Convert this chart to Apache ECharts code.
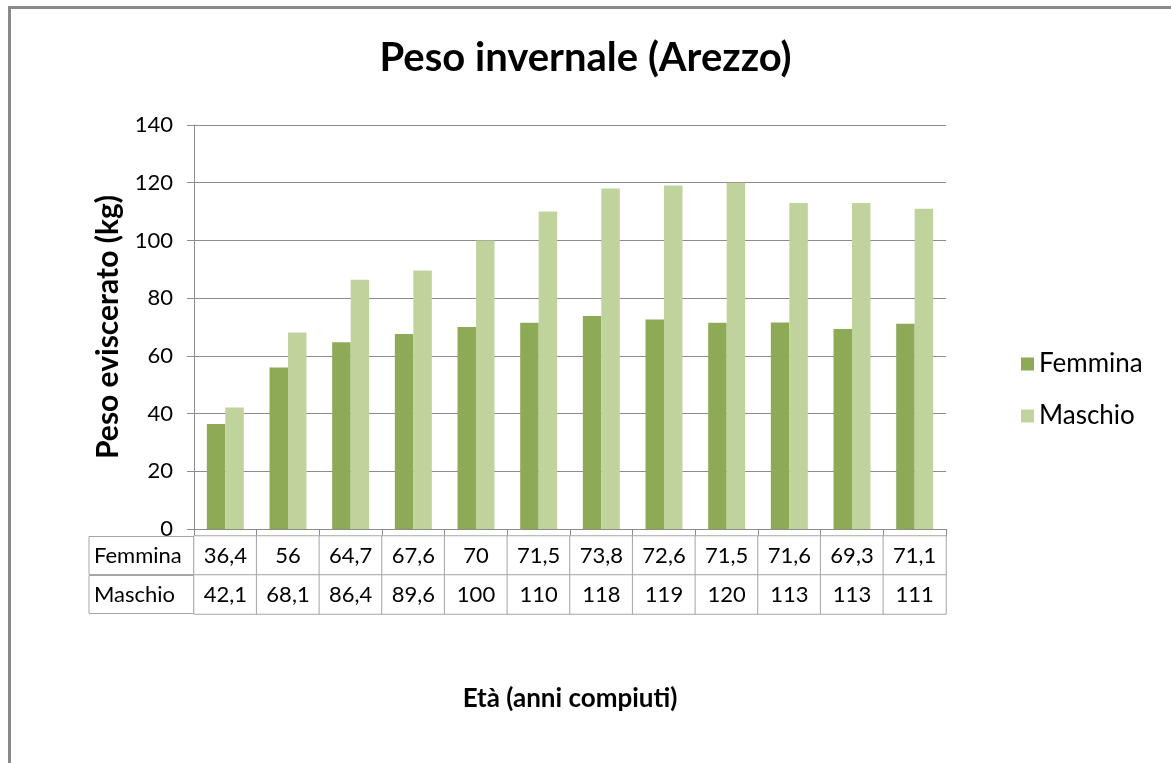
<!DOCTYPE html>
<html>
<head>
<meta charset="utf-8">
<script src="https://cdn.jsdelivr.net/npm/echarts@6/dist/echarts.min.js"></script>
<style>
  html, body { margin: 0; padding: 0; background: #fff; }
  #frame { position: absolute; left: 8px; top: 6px; width: 1200px; height: 800px; border-top: 3px solid #8a8a8a; border-left: 3px solid #8a8a8a; }
  #chart { position: absolute; left: 0; top: 0; width: 1171px; height: 763px; }
</style>
</head>
<body>
<div id="frame"></div>
<div id="chart"></div>
<script>
// dati
const categories = ['1', '2', '3', '4', '5', '6', '7', '8', '9', '10', '11', '12']
const seriesNames = ['Femmina', 'Maschio']
const femmina = [36.4, 56, 64.7, 67.6, 70, 71.5, 73.8, 72.6, 71.5, 71.6, 69.3, 71.1]
const maschio = [42.1, 68.1, 86.4, 89.6, 100, 110, 118, 119, 120, 113, 113, 111]
const yTicks = { min: 0, max: 140, interval: 20 }

const font = 'Lato, "Open Sans", sans-serif'
const colors = ['#8eaa57', '#c0d39c']
const lineColor = '#8c8c8c'

// celle della tabella dati
const tableCells = []
femmina.forEach((v, i) => tableCells.push([i, 0, v]))
maschio.forEach((v, i) => tableCells.push([i, 1, v]))

const chart = echarts.init(document.getElementById('chart'))
chart.setOption({
  animation: false,
  title: {
    text: 'Peso invernale (Arezzo)',
    left: 'center',
    top: 33,
    textStyle: { fontFamily: font, fontSize: 40, fontWeight: 'bold', color: '#000' }
  },
  legend: {
    data: seriesNames,
    orient: 'vertical',
    left: 1016,
    top: 346,
    itemWidth: 13,
    itemHeight: 13,
    itemGap: 26,
    icon: 'rect',
    textStyle: { fontFamily: font, fontSize: 26, color: '#000' }
  },
  grid: [
    { left: 194, right: 225, top: 125, bottom: 234 },
    { left: 194, right: 225, top: 536, height: 78 }
  ],
  xAxis: [
    {
      gridIndex: 0,
      type: 'category',
      data: categories,
      axisLine: { lineStyle: { color: lineColor, width: 1 } },
      axisTick: { show: true, length: 7, lineStyle: { color: lineColor } },
      axisLabel: { show: false }
    },
    {
      gridIndex: 1,
      type: 'category',
      data: categories,
      axisLine: { show: false },
      axisTick: { show: false },
      axisLabel: { show: false },
      name: 'Età (anni compiuti)',
      nameLocation: 'middle',
      nameGap: 72,
      nameTextStyle: { fontFamily: font, fontSize: 26, fontWeight: 'bold', color: '#000' }
    }
  ],
  yAxis: [
    {
      gridIndex: 0,
      type: 'value',
      min: yTicks.min,
      max: yTicks.max,
      interval: yTicks.interval,
      axisLine: { show: true, lineStyle: { color: lineColor } },
      axisTick: { show: true, length: 7, lineStyle: { color: lineColor } },
      splitLine: { lineStyle: { color: lineColor } },
      axisLabel: { fontFamily: font, fontSize: 22, color: '#000', margin: 21 },
      name: 'Peso eviscerato (kg)',
      nameLocation: 'middle',
      nameRotate: 90,
      nameGap: 71,
      nameTextStyle: { fontFamily: font, fontSize: 30, fontWeight: 'bold', color: '#000' }
    },
    {
      gridIndex: 1,
      type: 'category',
      data: seriesNames,
      inverse: true,
      axisLine: { show: false },
      axisTick: { show: false },
      splitLine: { show: false },
      axisLabel: {
        margin: 0,
        formatter: v => '{h|' + v + '}',
        rich: {
          h: {
            width: 100,
            height: 38,
            padding: [0, 0, 0, 5],
            align: 'left',
            fontFamily: font,
            fontSize: 22,
            color: '#000',
            borderColor: '#a6a6a6',
            borderWidth: 1
          }
        }
      }
    }
  ],
  series: [
    {
      name: seriesNames[0],
      type: 'bar',
      xAxisIndex: 0,
      yAxisIndex: 0,
      data: femmina,
      barGap: '0%',
      barCategoryGap: '41%',
      itemStyle: { color: colors[0] }
    },
    {
      name: seriesNames[1],
      type: 'bar',
      xAxisIndex: 0,
      yAxisIndex: 0,
      data: maschio,
      barGap: '0%',
      barCategoryGap: '41%',
      itemStyle: { color: colors[1] }
    },
    {
      type: 'heatmap',
      xAxisIndex: 1,
      yAxisIndex: 1,
      data: tableCells,
      itemStyle: { color: '#fff', borderColor: '#a6a6a6', borderWidth: 1 },
      label: {
        show: true,
        fontFamily: font,
        fontSize: 22,
        color: '#000',
        formatter: p => String(p.value[2]).replace('.', ',')
      },
      emphasis: { disabled: true }
    }
  ]
})

window.addEventListener('resize', () => chart.resize())
</script>
</body>
</html>
